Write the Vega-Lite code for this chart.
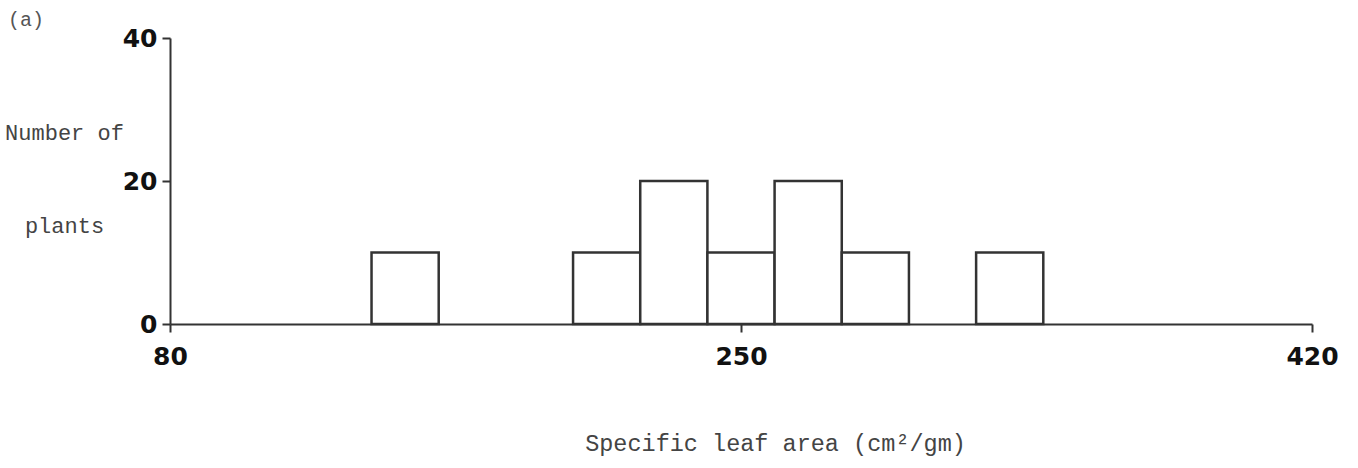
{
  "$schema": "https://vega.github.io/schema/vega-lite/v6.json",
  "autosize": "none",
  "width": 1142,
  "height": 286,
  "padding": {"left": 170, "top": 38, "right": 46, "bottom": 144},
  "background": "white",
  "title": {
    "text": "(a)",
    "anchor": "start",
    "frame": "group",
    "orient": "top",
    "dx": -162,
    "dy": 4,
    "font": "Liberation Mono",
    "fontSize": 20,
    "fontWeight": "normal",
    "color": "#555",
    "baseline": "top",
    "offset": 0
  },
  "data": {
    "values": [
      {"bin_start": 140, "bin_end": 160, "plants": 10},
      {"bin_start": 200, "bin_end": 220, "plants": 10},
      {"bin_start": 220, "bin_end": 240, "plants": 20},
      {"bin_start": 240, "bin_end": 260, "plants": 10},
      {"bin_start": 260, "bin_end": 280, "plants": 20},
      {"bin_start": 280, "bin_end": 300, "plants": 10},
      {"bin_start": 320, "bin_end": 340, "plants": 10}
    ]
  },
  "config": {
    "view": {"stroke": null},
    "axis": {"grid": false}
  },
  "mark": {"type": "bar", "fill": "white", "stroke": "#333", "strokeWidth": 2.5},
  "encoding": {
    "x": {
      "field": "bin_start",
      "type": "quantitative",
      "scale": {"domain": [80, 420], "nice": false, "zero": false},
      "axis": {
        "values": [80, 250, 420],
        "labelFlush": false,
        "title": "Specific leaf area (cm²/gm)",
        "titleFont": "Liberation Mono",
        "titleFontSize": 23.5,
        "titleFontWeight": "normal",
        "titleColor": "#444",
        "titleX": 605,
        "titleY": 119,
        "titleBaseline": "middle",
        "titleAnchor": "start",
        "titleAlign": "center",
        "labelFont": "DejaVu Sans",
        "labelFontSize": 25,
        "labelFontWeight": "bold",
        "labelColor": "#111",
        "labelPadding": 12,
        "tickSize": 8,
        "tickWidth": 2,
        "tickColor": "#333",
        "domainColor": "#333",
        "domainWidth": 2
      }
    },
    "x2": {"field": "bin_end"},
    "y": {
      "field": "plants",
      "type": "quantitative",
      "scale": {"domain": [0, 40], "nice": false},
      "axis": {
        "values": [0, 20, 40],
        "labelFlush": false,
        "title": ["Number of", "plants"],
        "titleFont": "Liberation Mono",
        "titleFontSize": 22,
        "titleFontWeight": "normal",
        "titleColor": "#444",
        "titleAngle": 0,
        "titleAlign": "center",
        "titleBaseline": "middle",
        "titleLineHeight": 93,
        "titleX": -106,
        "titleY": 94,
        "labelFont": "DejaVu Sans",
        "labelFontSize": 25,
        "labelFontWeight": "bold",
        "labelColor": "#111",
        "labelPadding": 5,
        "tickSize": 8,
        "tickWidth": 2,
        "tickColor": "#333",
        "domainColor": "#333",
        "domainWidth": 2
      }
    },
    "y2": {"datum": 0}
  }
}
